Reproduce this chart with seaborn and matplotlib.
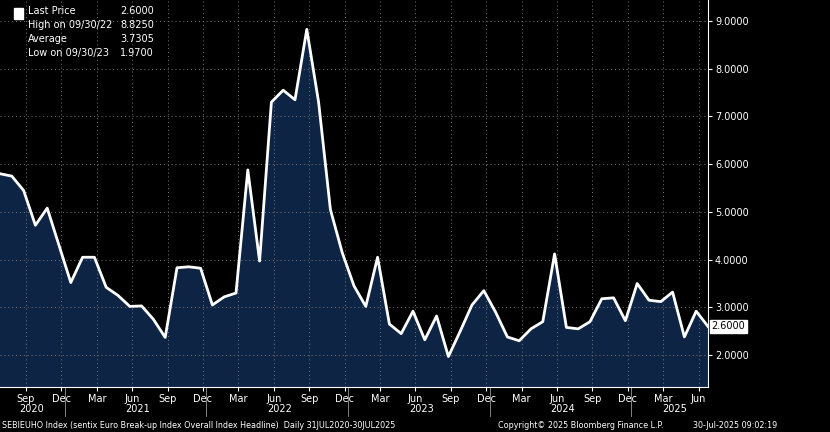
import numpy as np, pandas as pd
import matplotlib
matplotlib.use("Agg")
import matplotlib.pyplot as plt
import seaborn as sns

dates = pd.date_range("2020-07-31", "2025-07-31", freq="ME")
values = [5.80, 5.75, 5.45, 4.72, 5.08, 4.30, 3.52, 4.05, 4.05, 3.42, 3.25, 3.02, 3.03,
          2.75, 2.37, 3.83, 3.85, 3.82, 3.05, 3.22, 3.30, 5.88, 3.97, 7.30, 7.55, 7.35,
          8.825, 7.30, 5.05, 4.15, 3.45, 3.02, 4.05, 2.65, 2.45, 2.92, 2.32, 2.82, 1.97,
          2.50, 3.05, 3.35, 2.90, 2.38, 2.30, 2.55, 2.70, 4.12, 2.58, 2.55, 2.70, 3.18,
          3.20, 2.72, 3.50, 3.15, 3.12, 3.32, 2.38, 2.92, 2.60]
legend_rows = [("Last Price", "2.6000"), ("High on 09/30/22", "8.8250"),
               ("Average", "3.7305"), ("Low on 09/30/23", "1.9700")]
yticks = [2, 3, 4, 5, 6, 7, 8, 9]

df = pd.DataFrame({"t": np.arange(len(values)), "v": values})
fig = plt.figure(figsize=(8.3, 4.32), dpi=100, facecolor="black")
ax = fig.add_axes([0, 0.104, 0.853, 0.896], facecolor="black")
ax.fill_between(df.t, df.v, 0, color="#0d2444", zorder=1)
sns.lineplot(data=df, x="t", y="v", color="white", lw=2, ax=ax, zorder=3)
ax.set_xlim(0, len(values) - 1)
ax.set_ylim(1.33, 9.44)
ax.set_xlabel(""); ax.set_ylabel("")
for s in ax.spines.values(): s.set_visible(False)
ax.spines["right"].set_visible(True); ax.spines["right"].set_color("white")
ax.spines["bottom"].set_visible(True); ax.spines["bottom"].set_color("white")

ticks, labels = [], []
for i, d in enumerate(dates):
    if d.month in (3, 6, 9, 12):
        ticks.append(i + 0.2); labels.append(d.strftime("%b"))
ax.set_xticks(ticks); ax.set_xticklabels(labels, color="white", fontsize=7)
ax.yaxis.tick_right()
ax.set_yticks(yticks)
ax.set_yticklabels([f"{y:.4f}" for y in yticks], color="white", fontsize=7)
ax.tick_params(colors="white", length=3, pad=2)
ax.grid(True, color="#777777", ls=(0, (1, 3)), lw=0.7, zorder=0)

for yr in range(2020, 2026):
    idx = [i for i, d in enumerate(dates) if d.year == yr]
    mid = (idx[0] + idx[-1]) / 2 + 0.2
    ax.text(mid, -0.043, str(yr), transform=ax.get_xaxis_transform(), ha="center",
            va="top", color="white", fontsize=7)
    if yr > 2020:
        ax.plot([idx[0] - 0.5] * 2, [0.0, -0.075], transform=ax.get_xaxis_transform(),
                color="#999999", lw=0.6, clip_on=False)

ax.text(1.005, (values[-1] - 1.33) / (9.44 - 1.33), f"{values[-1]:.4f}", transform=ax.transAxes,
        ha="left", va="center", fontsize=7, color="black",
        bbox=dict(boxstyle="square,pad=0.2", fc="white", ec="white"))

for k, (a, b) in enumerate(legend_rows):
    y = 0.985 - k * 0.036
    ax.text(0.04, y, a, transform=ax.transAxes, color="white", fontsize=7, va="top")
    ax.text(0.17, y, b, transform=ax.transAxes, color="white", fontsize=7, va="top")
ax.add_patch(plt.Rectangle((0.02, 0.952), 0.013, 0.028, transform=ax.transAxes, color="white"))

fig.text(0.003, 0.01, "SEBIEUHO Index (sentix Euro Break-up Index Overall Index Headline)  Daily 31JUL2020-30JUL2025",
         color="white", fontsize=5.8)
fig.text(0.6, 0.01, "Copyright© 2025 Bloomberg Finance L.P.", color="white", fontsize=5.8)
fig.text(0.835, 0.01, "30-Jul-2025 09:02:19", color="white", fontsize=5.8)
fig.savefig("out.png", dpi=100, facecolor="black")
